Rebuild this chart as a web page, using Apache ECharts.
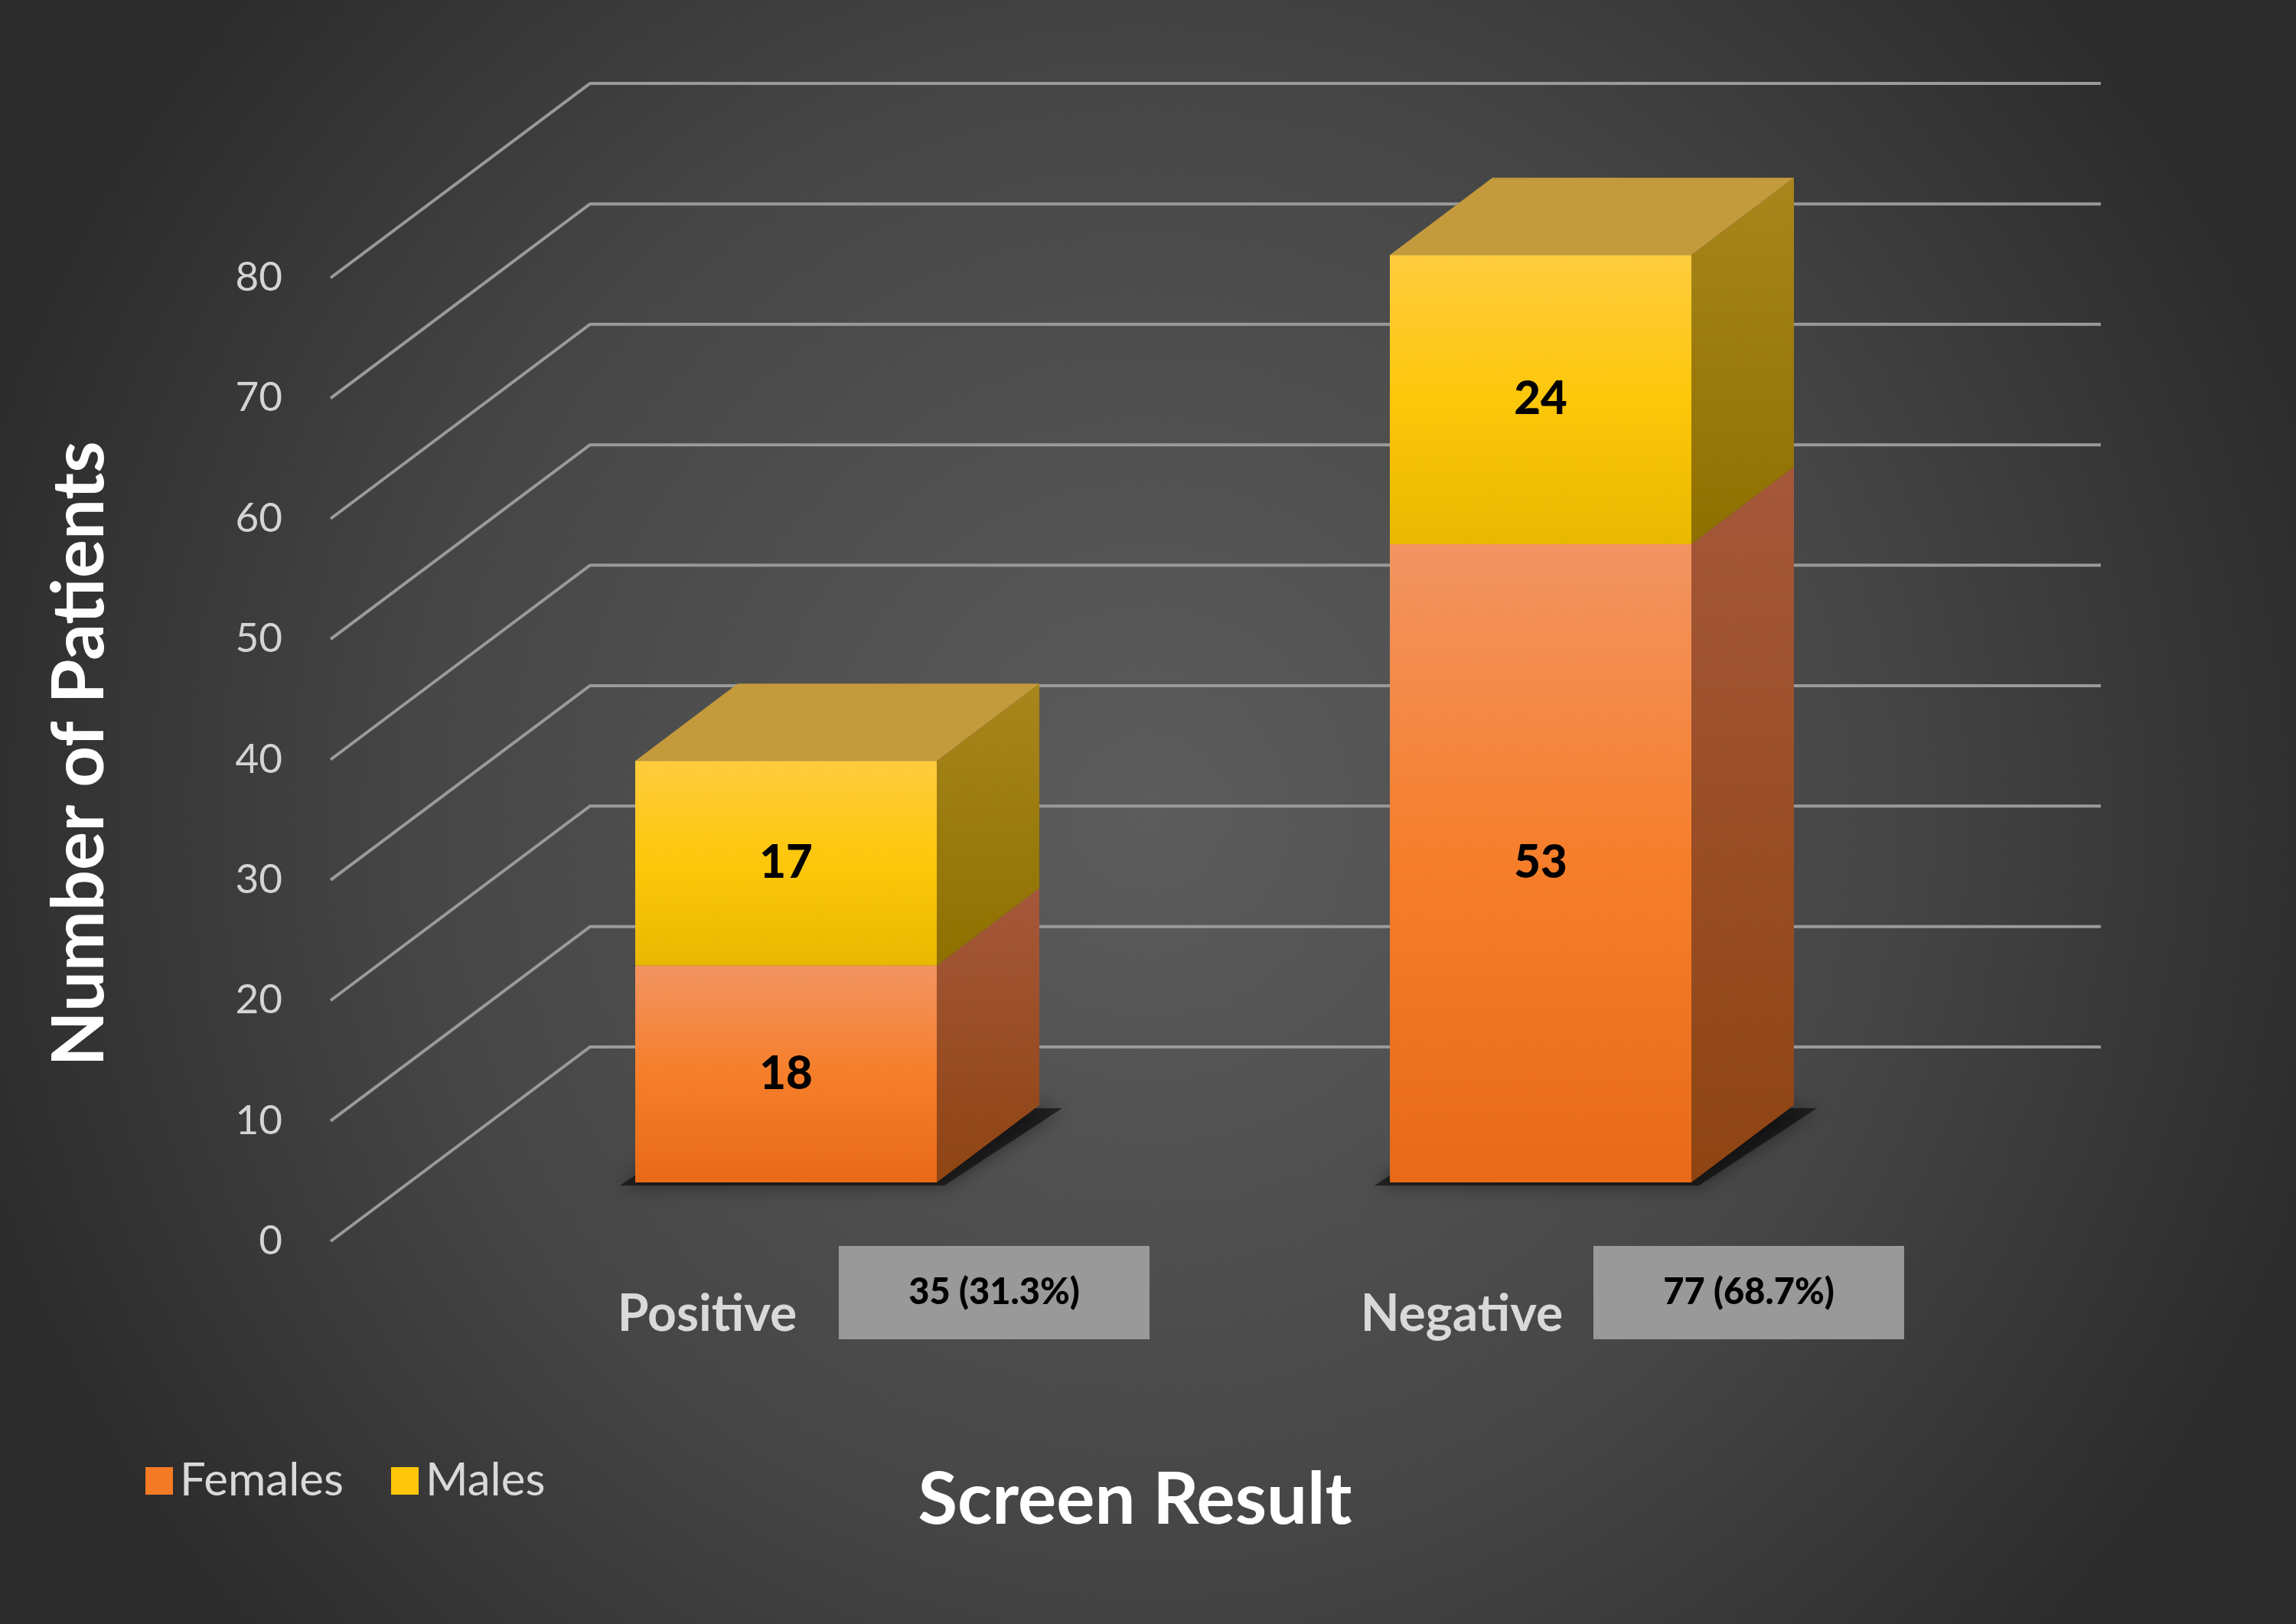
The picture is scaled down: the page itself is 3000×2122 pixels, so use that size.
<!DOCTYPE html>
<html><head><meta charset="utf-8">
<script src="https://cdn.jsdelivr.net/npm/echarts@6/dist/echarts.min.js"></script>
<style>html,body{margin:0;padding:0;background:#333}#c{width:3000px;height:2122px}</style>
</head><body><div id="c"></div>
<script>
const categories = ['Positive', 'Negative'];
const females = [18, 53];
const males = [17, 24];
const totalLabels = ['35 (31.3%)', '77 (68.7%)'];
const yTicks = [0, 10, 20, 30, 40, 50, 60, 70, 80];

const F = 'Lato, "Open Sans", sans-serif';
const BW = 394, BDX = 134, BDY = -101, BOFF = -77;   // bar geometry (px)
const WDX = 339, WDY = -254, AXL = 432, WALLR = 2745; // wall geometry (px)

function lg(a, b) { return {type:'linear', x:0, y:0, x2:0, y2:1, colorStops:[{offset:0,color:a},{offset:1,color:b}]}; }
const styles = {
  f: {front: {type:'linear',x:0,y:0,x2:0,y2:1,colorStops:[{offset:0,color:'#F29462'},{offset:0.5,color:'#F67E2A'},{offset:1,color:'#E86A18'}]},
      side: lg('#A5583A', '#8E4412'), top: '#C39A3C'},
  m: {front: {type:'linear',x:0,y:0,x2:0,y2:1,colorStops:[{offset:0,color:'#FFCC3E'},{offset:0.5,color:'#FDC70A'},{offset:1,color:'#E8B800'}]},
      side: lg('#A8861C', '#8E7000'), top: '#C39A3C'}
};

function barItem(key, drawTop, shadow) {
  return function (params, api) {
    const i = api.value(0), b = api.value(1), t = api.value(2);
    const p0 = api.coord([i, b]), p1 = api.coord([i, t]);
    const x0 = p0[0] - BW / 2, x1 = p0[0] + BW / 2;
    const yb = p0[1] + BOFF, yt = p1[1] + BOFF;
    const st = styles[key];
    const ch = [];
    if (shadow) ch.push({type:'polygon', shape:{points:[[x0-20,yb+4],[x0+BDX,yb+BDY+4],[x1+BDX+30,yb+BDY+4],[x1+10,yb+4]]},
      style:{fill:'rgba(0,0,0,0.55)', shadowBlur:25, shadowColor:'rgba(0,0,0,0.8)'}});
    ch.push({type:'polygon', shape:{points:[[x1,yb],[x1+BDX,yb+BDY],[x1+BDX,yt+BDY],[x1,yt]]}, style:{fill:st.side}});
    if (drawTop) ch.push({type:'polygon', shape:{points:[[x0,yt],[x0+BDX,yt+BDY],[x1+BDX,yt+BDY],[x1,yt]]}, style:{fill:st.top}});
    ch.push({type:'rect', shape:{x:x0, y:yt, width:BW, height:yb-yt}, style:{fill:st.front}});
    ch.push({type:'text', style:{text:String(t-b), x:p0[0], y:(yb+yt)/2, align:'center', verticalAlign:'middle', fill:'#000', font:'900 60px ' + F}});
    return {type:'group', children:ch};
  };
}

const option = {
  backgroundColor: {type:'radial', x:0.5, y:0.5, r:0.75, colorStops:[{offset:0,color:'#5c5c5c'},{offset:0.6,color:'#464646'},{offset:1,color:'#2c2c2c'}]},
  animation: false,
  grid: {left: 534, right: 3000 - 534 - 1972, top: 363, bottom: 500},
  xAxis: {type:'category', data: categories, axisLine:{show:false}, axisTick:{show:false}, axisLabel:{show:false}, splitLine:{show:false}},
  yAxis: {type:'value', min:0, max:80, interval:10, axisLine:{show:false}, axisTick:{show:false}, splitLine:{show:false},
    axisLabel:{margin:165, color:'#d4d4d4', fontSize:53, fontFamily:F}},
  legend: {left: 185, top: 1900, itemWidth: 36, itemHeight: 36, itemGap: 62, icon:'rect',
    textStyle:{color:'#d9d9d9', fontSize:60, fontFamily:F, padding:[0,0,0,4]},
    data:[{name:'Females', itemStyle:{color:'#F47A25'}}, {name:'Males', itemStyle:{color:'#FFC60A'}}]},
  graphic: [
    {type:'text', x:105, y:985, rotation: Math.PI/2, style:{text:'Number of Patients', fill:'#fff', font:'bold 94px ' + F, align:'center', verticalAlign:'middle'}},
    {type:'text', x:1483, y:1961, style:{text:'Screen Result', fill:'#fff', font:'bold 94px ' + F, align:'center', verticalAlign:'middle'}}
  ],
  series: [
    {type:'custom', name:'grid', silent:true, z:1, data: yTicks.map(v => [0, v]),
      renderItem: function (params, api) {
        const y = api.coord([0, api.value(1)])[1];
        return {type:'polyline', shape:{points:[[AXL, y], [AXL+WDX, y+WDY], [WALLR, y+WDY]]}, style:{stroke:'#9a9a9a', lineWidth:4, fill:null}};
      }},
    {type:'custom', name:'Females', z:2, data: females.map((v, i) => [i, 0, v]), renderItem: barItem('f', false, true)},
    {type:'custom', name:'Males', z:3, data: males.map((v, i) => [i, females[i], females[i] + v]), renderItem: barItem('m', true, false)},
    {type:'custom', name:'cats', silent:true, z:4, data: categories.map((c, i) => [i, 0]),
      renderItem: function (params, api) {
        const i = api.value(0);
        const c = api.coord([i, 0]);
        return {type:'group', children:[
          {type:'text', style:{text:categories[i], x:c[0]-103, y:c[1]+96, align:'center', verticalAlign:'middle', fill:'#d9d9d9', font:'bold 66px ' + F}},
          {type:'rect', shape:{x:c[0]+69, y:c[1]+6, width:406, height:122}, style:{fill:'#999999'}},
          {type:'text', style:{text:totalLabels[i], x:c[0]+272, y:c[1]+67, align:'center', verticalAlign:'middle', fill:'#000', font:'900 47px ' + F}}
        ]};
      }}
  ]
};
const chart = echarts.init(document.getElementById('c'));
chart.setOption(option);
</script></body></html>
